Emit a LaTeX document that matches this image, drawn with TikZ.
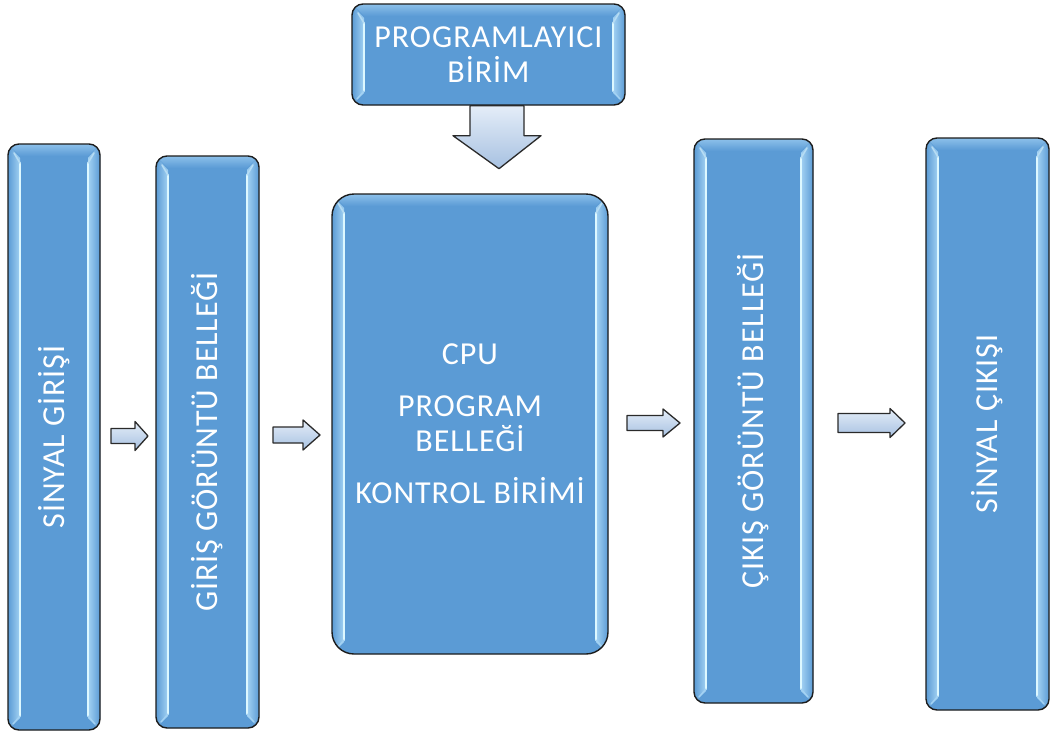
\documentclass[tikz,border=0pt]{standalone}
\usepackage{fontspec}
\setmainfont{Carlito}
\newfontfamily\panelfont[LetterSpace=3.0]{Carlito}
\usepackage{graphicx}
\usetikzlibrary{calc}

\definecolor{boxblue}{HTML}{5B9BD5}
\definecolor{boxedge}{HTML}{1C1C1C}
\definecolor{glint}{HTML}{DDF8FF}
\definecolor{bandlight}{HTML}{A3D2F3}
\definecolor{toplight}{HTML}{8CC0EA}
\definecolor{arrowtop}{HTML}{E4EDF8}
\definecolor{arrowbot}{HTML}{A7C1E1}
\definecolor{arrowedge}{HTML}{2A2A2A}

\tikzset{
  bevel/.style={path picture={
    \coordinate (bSW) at (path picture bounding box.south west);
    \coordinate (bNE) at (path picture bounding box.north east);
    \coordinate (bNW) at (bSW |- bNE);
    \coordinate (bSE) at (bNE |- bSW);
    \begin{scope}[sharp corners]
      % lighter top rim
      \shade[top color=toplight, bottom color=boxblue]
        (bNW) -- (bNE) -- ([shift={(-12pt,-12pt)}]bNE) -- ([shift={(12pt,-12pt)}]bNW) -- cycle;
      % side rims, brightening towards the inner edge
      \shade[left color=boxblue, right color=bandlight]
        (bNW) -- ([shift={(12pt,-14pt)}]bNW) -- ([shift={(12pt,12pt)}]bSW) -- (bSW) -- cycle;
      \shade[left color=bandlight, right color=boxblue]
        (bNE) -- ([shift={(-12pt,-14pt)}]bNE) -- ([shift={(-12pt,12pt)}]bSE) -- (bSE) -- cycle;
      % highlight lines along the inner edge of the rims
      \draw[glint, line width=2.2pt, line cap=round]
        ([shift={(12pt,-19pt)}]bNW) -- ([shift={(12pt,14pt)}]bSW);
      \draw[glint, line width=2.2pt, line cap=round]
        ([shift={(-12pt,-19pt)}]bNE) -- ([shift={(-12pt,14pt)}]bSE);
      \draw[glint!70!boxblue, line width=1.6pt, line cap=round]
        ([shift={(12pt,-19pt)}]bNW) -- ([shift={(6pt,-9pt)}]bNW)
        ([shift={(-12pt,-19pt)}]bNE) -- ([shift={(-6pt,-9pt)}]bNE);
      \draw[bandlight, line width=1.4pt, line cap=round]
        ([shift={(12pt,14pt)}]bSW) -- ([shift={(5pt,6pt)}]bSW)
        ([shift={(-12pt,14pt)}]bSE) -- ([shift={(-5pt,6pt)}]bSE);
    \end{scope}
  }},
  panel/.style={rectangle, draw=boxedge, line width=1.4pt, fill=boxblue,
    rounded corners=#1, inner sep=0pt, text=white, align=center,
    font=\panelfont\fontsize{32}{35}\selectfont, bevel},
  panel/.default=11pt,
  blockarrow/.style={draw=arrowedge, line width=1.3pt, line join=round,
    top color=arrowtop, bottom color=arrowbot}
}

% right-pointing block arrow: centre, length, shaft width, head width, head length
\newcommand\rightblock[5]{%
  \begin{scope}[shift={(#1)}, x=1pt, y=1pt]
    \path[blockarrow] (-#2/2,#3/2) -- (#2/2-#5,#3/2) -- (#2/2-#5,#4/2) -- (#2/2,0)
      -- (#2/2-#5,-#4/2) -- (#2/2-#5,-#3/2) -- (-#2/2,-#3/2) -- cycle;
  \end{scope}}

\begin{document}
\begin{tikzpicture}[x=1pt, y=-1pt]
  \useasboundingbox (0,0) rectangle (1051,734);
  \fill[white] (0,0) rectangle (1051,734);

  % processing stages
  \node[panel, minimum width=92pt, minimum height=586pt] (si) at (54,437)
    {\rotatebox{90}{SİNYAL GİRİŞİ}};
  \node[panel, minimum width=103pt, minimum height=572pt] (gg) at (207.5,442)
    {\rotatebox{90}{GİRİŞ GÖRÜNTÜ BELLEĞİ}};
  \node[panel=22pt, minimum width=276pt, minimum height=460pt] (cpu) at (470,424)
    {CPU\\[17pt]PROGRAM\\BELLEĞİ\\[17pt]KONTROL BİRİMİ};
  \node[panel, minimum width=273pt, minimum height=101pt] (pb) at (488.5,54.5)
    {PROGRAMLAYICI\\BİRİM};
  \node[panel, minimum width=119pt, minimum height=564pt] (cg) at (753.5,421)
    {\rotatebox{90}{ÇIKIŞ GÖRÜNTÜ BELLEĞİ}};
  \node[panel, minimum width=123pt, minimum height=572pt] (sc) at (987.5,424)
    {\rotatebox{90}{SİNYAL ÇIKIŞI}};

  % flow arrows between the stages
  \coordinate (a1) at (129.5,436);
  \coordinate (a2) at (296.5,435);
  \coordinate (a3) at (653.5,423);
  \coordinate (a4) at (871.5,423);
  \rightblock{a1}{37}{15}{29}{13}
  \rightblock{a2}{47}{16}{30}{17}
  \rightblock{a3}{53}{15}{28}{17}
  \rightblock{a4}{67}{19}{29}{15}

  % programmer feeding the CPU
  \coordinate (a5) at ($(pb.south)+(8.5,0)$);
  \begin{scope}[shift={(a5)}, x=1pt, y=1pt]
    \path[blockarrow] (-27,0) -- (27,0) -- (27,-30) -- (44,-30) -- (2,-63)
      -- (-44,-30) -- (-27,-30) -- cycle;
  \end{scope}
\end{tikzpicture}
\end{document}
